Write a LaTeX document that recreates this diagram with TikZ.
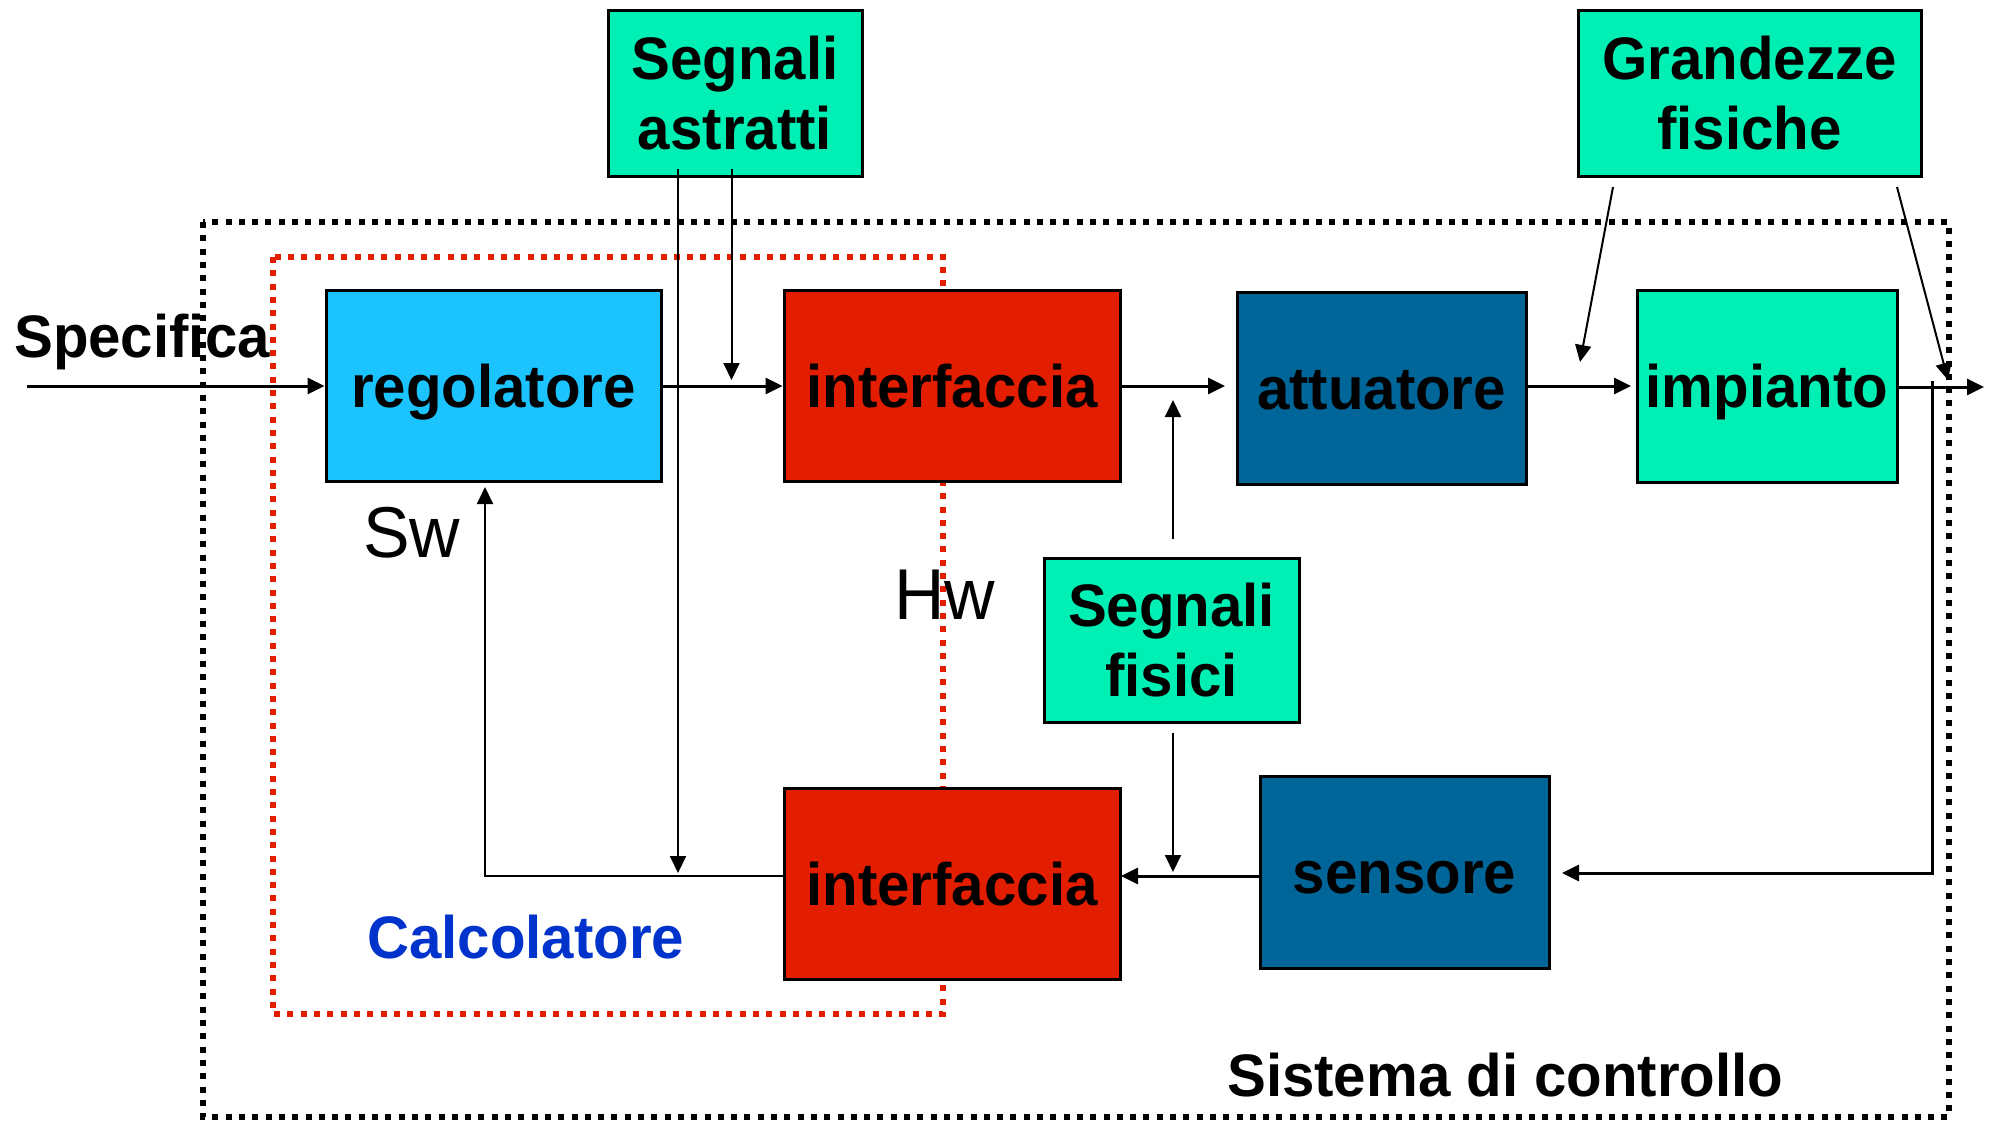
\documentclass[tikz,border=0pt]{standalone}
\usepackage{fontspec}
\setmainfont{Liberation Sans}[FakeStretch=0.97]
\usetikzlibrary{arrows.meta}
\definecolor{cgreen}{RGB}{0,239,180}
\definecolor{clblue}{RGB}{27,195,255}
\definecolor{cred}{RGB}{227,30,0}
\definecolor{cdblue}{RGB}{0,102,153}
\definecolor{ctxtblue}{RGB}{0,51,204}
\newcommand\bxfont{\fontsize{60}{70}\selectfont\bfseries}
\newcommand\lgfont{\fontsize{72}{80}\selectfont}
\begin{document}
\begin{tikzpicture}[x=1pt,y=-1pt,
  blk/.style={draw=black, line width=3pt, inner sep=0pt, align=center, font=\bxfont},
  one/.style={text height=43pt, text depth=0pt},
  lbl/.style={inner sep=0pt, anchor=base west},
  arr/.style={-{Triangle[length=17pt,width=16pt]}},
  thickln/.style={line width=3pt},
  thinln/.style={line width=2pt},
  dotbox/.style={line width=6pt, dash pattern=on 6pt off 7.3pt}]
\useasboundingbox (0,0) rectangle (1989,1122);
\fill[white] (0,0) rectangle (1989,1122);

% dotted frames
\draw[dotbox, cred] (273,257) rectangle (943,1014);
\draw[dotbox, black] (203,222) rectangle (1949,1117);

% boxes
\node[blk, fill=cgreen, minimum width=254pt, minimum height=166pt] (sa) at (735,93) {Segnali\\astratti};
\node[blk, fill=cgreen, minimum width=343pt, minimum height=166pt] (gf) at (1749.5,93) {Grandezze\\fisiche};
\node[blk, fill=cgreen, minimum width=255pt, minimum height=164pt] (sf) at (1171.5,640) {Segnali\\fisici};
\node[blk, one, fill=clblue, minimum width=335pt, minimum height=191pt] (reg) at (493.5,385.5) {regolatore};
\node[blk, one, fill=cred, minimum width=336pt, minimum height=191pt] (if1) at (952,385.5) {interfaccia};
\node[blk, one, fill=cdblue, minimum width=289pt, minimum height=192pt] (att) at (1381.5,388) {attuatore};
\node[blk, one, fill=cgreen, minimum width=260pt, minimum height=192pt] (imp) at (1767,386) {impianto};
\node[blk, one, fill=cred, minimum width=336pt, minimum height=191pt] (if2) at (952,883.5) {interfaccia};
\node[blk, one, fill=cdblue, minimum width=289pt, minimum height=192pt] (sen) at (1404.5,872) {sensore};

% labels
\node[lbl, font=\bxfont] (spec) at (14,357) {Specifica};
\node[lbl, font=\lgfont] (sw) at (363,557) {Sw};
\node[lbl, font=\lgfont] (hw) at (894,619) {Hw};
\node[lbl, font=\bxfont, text=ctxtblue] (calc) at (367,958) {Calcolatore};
\node[lbl, font=\bxfont] (sis) at (1227,1096) {Sistema di controllo};

% coordinates
\coordinate (in) at (27,386);
\coordinate (a1s) at (731.5,169);
\coordinate (a1e) at (731.5,380);
\coordinate (a2s) at (678,169);
\coordinate (a2e) at (678,873);
\coordinate (fbl) at (485,876);
\coordinate (fbt) at (485,487);
\coordinate (i1e) at (1120,386);
\coordinate (atin) at (1225,386);
\coordinate (ate) at (1528,386);
\coordinate (imin) at (1631,386);
\coordinate (fu1) at (1173,539);
\coordinate (fu2) at (1173,400);
\coordinate (fd1) at (1173,733);
\coordinate (fd2) at (1173,872);
\coordinate (snw) at (1260,876);
\coordinate (i2e) at (1121,876);
\coordinate (g1s) at (1613,187);
\coordinate (g1e) at (1580,362);
\coordinate (g2s) at (1897,187);
\coordinate (g2e) at (1948,380);
\coordinate (out) at (1984,387);
\coordinate (fbs) at (1932,381);
\coordinate (fbc) at (1932,873);
\coordinate (fbe) at (1562,873);

% connectors
\draw[thickln, arr] (in) -- (reg.west |- in);
\draw[thickln, arr] (reg.east |- in) -- (if1.west |- in);
\draw[thinln, arr] (a1s) -- (a1e);
\draw[thinln, arr] (a2s) -- (a2e);
\draw[thinln, arr] (if2.west |- fbl) -- (fbl) -- (fbt);
\draw[thickln, arr] (i1e) -- (atin);
\draw[thickln, arr] (ate) -- (imin);
\draw[thinln, arr] (fu1) -- (fu2);
\draw[thinln, arr] (fd1) -- (fd2);
\draw[thickln, arr] (snw) -- (i2e);
\draw[thinln, arr] (g1s) -- (g1e);
\draw[thinln, arr] (g2s) -- (g2e);
\draw[thickln, arr] (imp.east |- out) -- (out);
\draw[thickln, arr] (fbs) -- (fbc) -- (fbe);
\end{tikzpicture}
\end{document}
